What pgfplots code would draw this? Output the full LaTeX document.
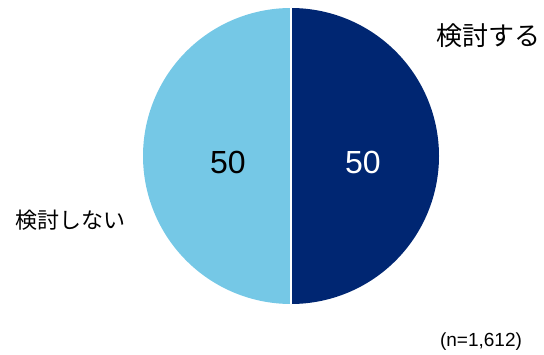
\documentclass[border=0pt]{standalone}
\usepackage{fontspec}
\setmainfont{Liberation Sans}
\newfontfamily\jp{Noto Sans CJK JP}
\usepackage{pgfplots}
\usepackage{pgfplotstable}
\pgfplotsset{compat=1.18}
\definecolor{navy}{HTML}{002672}
\definecolor{lblue}{HTML}{75C8E6}
\pgfplotstableread{
idx value
0 50
1 50
}\piedata
\begin{document}%
\begin{tikzpicture}
\pgfplotstablegetelem{0}{value}\of\piedata \let\va\pgfplotsretval
\pgfplotstablegetelem{1}{value}\of\piedata \let\vb\pgfplotsretval
\pgfmathsetmacro\fa{\va/(\va+\vb)}
\pgfmathsetmacro\fb{\vb/(\va+\vb)}
\pgfmathsetmacro\aone{90-360*\fa}
\pgfmathsetmacro\atwo{\aone-360*\fb}
\begin{axis}[
  x=1pt, y=1pt,
  xmin=0, xmax=544, ymin=0, ymax=354,
  hide axis, clip=false,
  at={(0,0)}, anchor=origin,
]
% right wedge
\addplot[fill=navy, draw=none, domain=\aone:90, samples=121]
  ({291+148*cos(x)},{198+148*sin(x)}) -- (axis cs:291,198) -- cycle;
% left wedge
\addplot[fill=lblue, draw=none, domain=\atwo:\aone, samples=121]
  ({291+148*cos(x)},{198+148*sin(x)}) -- (axis cs:291,198) -- cycle;
% separator
\addplot[white, line width=1.6pt] coordinates {(291,346) (291,50)};
\node[font=\fontsize{32}{34}\selectfont, text=black] at (axis cs:228,192) {\va};
\node[font=\fontsize{32}{34}\selectfont, text=white] at (axis cs:363,192) {\vb};
\node[font=\jp\fontsize{26}{28}\selectfont] at (axis cs:488,318) {検討する};
\node[font=\jp\fontsize{22}{24}\selectfont] at (axis cs:70,134) {検討しない};
\node[font=\fontsize{19}{21}\selectfont] at (axis cs:481,12) {(n=1,612)};
\end{axis}
\pgfresetboundingbox
\path (0,0) rectangle (544pt,354pt);
\end{tikzpicture}%
\end{document}
